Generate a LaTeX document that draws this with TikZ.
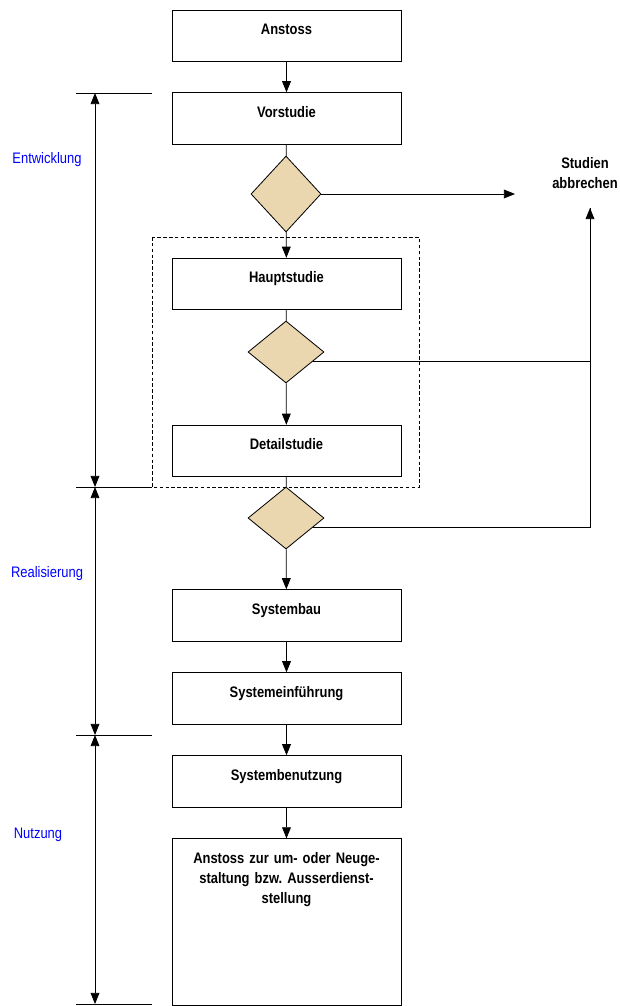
\documentclass[tikz,border=0pt]{standalone}
\usepackage{fontspec}
\setmainfont{Liberation Sans}[FakeStretch=0.85]
\usetikzlibrary{arrows.meta, shapes.geometric, positioning}
\definecolor{sand}{RGB}{234,215,175}
\tikzset{
  stage/.style={draw, minimum width=6.87cm, inner ysep=0pt, text height=21pt, text depth=23pt,
    font=\fontsize{13}{17}\selectfont\bfseries},
  gate/.style={draw, diamond, fill=sand, inner sep=0pt},
  phase/.style={text=blue, font=\fontsize{13}{15}\selectfont}
}
\begin{document}
\begin{tikzpicture}[x=0.03cm, y=-0.03cm, >={Triangle[length=9.5pt,width=7.5pt]}, line width=0.7pt]
  \useasboundingbox (0,0) rectangle (620,1006);
  \draw[dashed, dash pattern=on 3pt off 2pt] (152,237) rectangle (419,487);
  % stages
  \node[stage] (anst) at (286.5,36) {Anstoss};
  \node[stage] (vor) at (286.5,118.5) {Vorstudie};
  \node[gate, minimum width=2.1cm, minimum height=2.28cm] (d1) at (286,194) {};
  \node[stage] (haupt) at (286.5,284) {Hauptstudie};
  \node[gate, minimum width=2.28cm, minimum height=1.86cm] (d2) at (286,352) {};
  \node[stage] (detail) at (286.5,451) {Detailstudie};
  \node[gate, minimum width=2.28cm, minimum height=1.86cm] (d3) at (286,518) {};
  \node[stage] (bau) at (286.5,615.5) {Systembau};
  \node[stage] (einf) at (286.5,698.5) {Systemeinführung};
  \node[stage] (benu) at (286.5,781.5) {Systembenutzung};
  \node[stage, text depth=121pt, text width=6.5cm, align=center] (ende) at (286.5,922)
    {Anstoss zur um- oder Neuge-\\staltung bzw.\ Ausserdienst-\\stellung};
  \node[font=\fontsize{13}{17}\selectfont\bfseries, align=center] (stud) at (585,173) {Studien\\abbrechen};
  \coordinate (stopin) at (515,194);
  \coordinate (stopout) at (590,208);
  % flow
  \draw[->] (anst) -- (vor);
  \draw (vor) -- (d1);
  \draw[->] (d1) -- (haupt);
  \draw[->] (d1.east) -- (stopin);
  \draw (haupt) -- (d2);
  \draw[->] (d2) -- (detail);
  \draw (detail) -- (d3);
  \draw[->] (d3) -- (bau);
  \draw[->] (bau) -- (einf);
  \draw[->] (einf) -- (benu);
  \draw[->] (benu) -- (ende);
  \draw[->] (d2.-20) -| (stopout);
  \draw (d3.-20) -| (stopout);
  % phases
  \foreach \y [count=\i] in {93,487,735,1004} {
    \draw (76,\y) -- (152,\y);
    \coordinate (t\i) at (95,\y);
  }
  \draw[<->] (t1) -- (t2);
  \draw[<->] (t2) -- (t3);
  \draw[<->] (t3) -- (t4);
  \node[phase] (entw) at (47,160) {Entwicklung};
  \node[phase] (real) at (47,574) {Realisierung};
  \node[phase] (nutz) at (38,835) {Nutzung};
\end{tikzpicture}
\end{document}
